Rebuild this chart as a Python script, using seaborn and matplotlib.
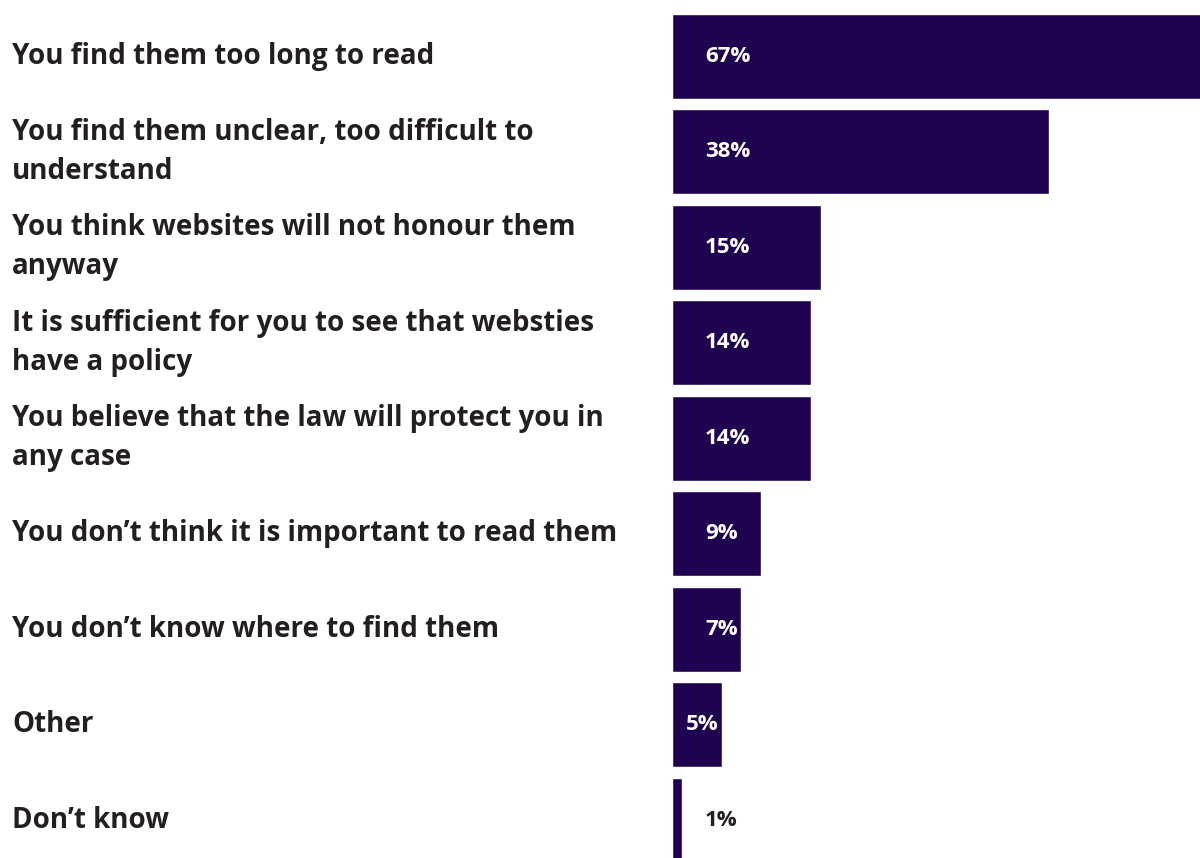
import matplotlib
matplotlib.use("Agg")
import matplotlib.pyplot as plt
import matplotlib.transforms as mtransforms
import seaborn as sns
import pandas as pd

categories = [
    "You find them too long to read",
    "You find them unclear, too difficult to\nunderstand",
    "You think websites will not honour them\nanyway",
    "It is sufficient for you to see that websties\nhave a policy",
    "You believe that the law will protect you in\nany case",
    "You don\u2019t think it is important to read them",
    "You don\u2019t know where to find them",
    "Other",
    "Don\u2019t know",
]
values = [67, 38, 15, 14, 14, 9, 7, 5, 1]
value_labels = ["67%", "38%", "15%", "14%", "14%", "9%", "7%", "5%", "1%"]

BAR = "#200350"
INK = "#231f20"

sns.set_theme(style="white")
plt.rcParams["font.family"] = ["Open Sans", "DejaVu Sans"]

df = pd.DataFrame({"reason": categories, "share": values})

fig = plt.figure(figsize=(12, 8.58), dpi=100)
W, H = 1200, 858
top_px, bottom_px = 8.75, 868.0
ax_w_px = W - 672
ax = fig.add_axes([672 / W, 1 - bottom_px / H, ax_w_px / W, (bottom_px - top_px) / H])

sns.barplot(data=df, x="share", y="reason", orient="h", color=BAR,
            saturation=1, width=0.89, ax=ax)

XMAX = 53.2
ax.set_xlim(0, XMAX)
ax.set_ylim(len(categories) - 0.5, -0.5)
ax.set_xlabel("")
ax.set_ylabel("")
ax.set_xticks([])
ax.set_yticks([])
for s in ax.spines.values():
    s.set_visible(False)

# category labels at the left edge of the figure
lab_tr = mtransforms.blended_transform_factory(fig.transFigure, ax.transData)
for i, text in enumerate(categories):
    ax.text(12 / W, i, text, transform=lab_tr, ha="left", va="center",
            fontsize=20, fontweight="bold", color=INK, linespacing=1.45,
            clip_on=False)

# value labels near the start of each bar; pulled in when the bar is short
val_tr = mtransforms.blended_transform_factory(ax.transAxes, ax.transData)
px_per_unit = ax_w_px / XMAX
label_w = 46
for i, (v, lbl) in enumerate(zip(values, value_labels)):
    bar_px = v * px_per_unit
    w = label_w if len(lbl) == 3 else 30
    inside = bar_px >= w + 10
    off = 33 if (not inside or bar_px >= 33 + w + 4) else max(6, bar_px - w - 6)
    ax.text(off / ax_w_px, i, lbl, transform=val_tr, ha="left", va="center",
            fontsize=16, fontweight="bold",
            color="white" if inside else INK)

fig.savefig("out.png", dpi=100, facecolor="white")
